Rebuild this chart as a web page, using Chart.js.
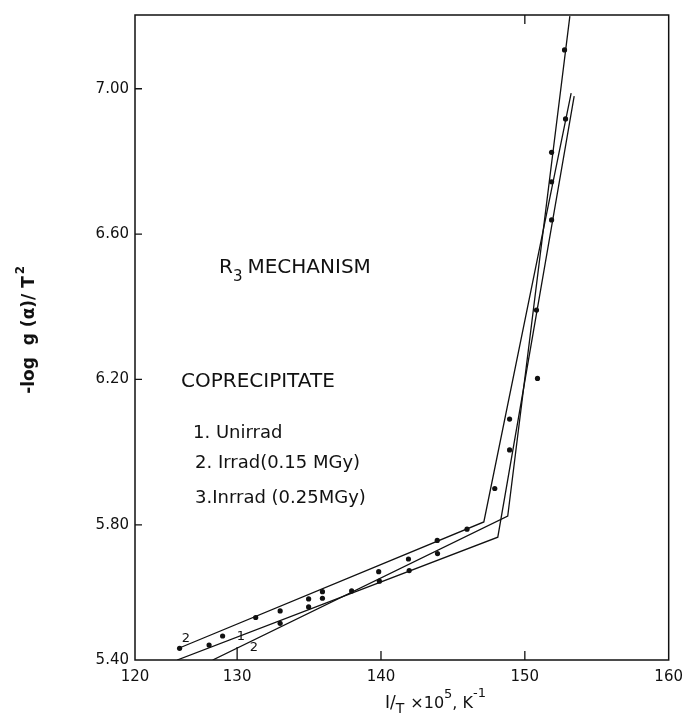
<!DOCTYPE html>
<html>
<head>
<meta charset="utf-8">
<script src="https://cdn.jsdelivr.net/npm/chart.js@4.4.0/dist/chart.umd.min.js"></script>
<style>
  html, body { margin: 0; padding: 0; background: #fff; }
</style>
</head>
<body>
<canvas id="chart" width="691" height="717"></canvas>
<script>
// axis ticks (the corner of the frame is labelled 120 / 5.40)
const xTickValues = [122.9, 130, 140, 150, 160];
const xTickLabels = ['120', '130', '140', '150', '160'];
const yTickValues = [5.428, 5.80, 6.20, 6.60, 7.00];
const yTickLabels = ['5.40', '5.80', '6.20', '6.60', '7.00'];

// measured points: 1/T x 10^5 and -log g(a)/T^2
const ptsX = [126.00, 128.05, 128.99, 131.29, 132.99, 132.99, 134.97, 134.97, 135.93, 135.93,
              137.96, 139.84, 139.89, 141.91, 141.96, 143.91, 143.93, 145.98,
              147.91, 148.94, 148.94, 150.81, 150.88, 151.86, 151.86, 151.86, 152.76, 152.83];
const ptsY = [5.460, 5.469, 5.494, 5.545, 5.563, 5.529, 5.596, 5.574, 5.616, 5.598,
              5.618, 5.671, 5.645, 5.706, 5.674, 5.757, 5.721, 5.788,
              5.900, 6.091, 6.006, 6.391, 6.203, 6.825, 6.744, 6.639, 7.107, 6.917];

// fitted lines (two segments each)
const fitUpperX = [125.98, 147.15, 153.22];
const fitUpperY = [5.461, 5.808, 6.988];
const fitMidX = [125.83, 148.12, 153.43];
const fitMidY = [5.428, 5.766, 6.980];
const fitLowX = [128.30, 148.81, 153.13];
const fitLowY = [5.428, 5.824, 7.20];

function toXY(xs, ys) {
  return xs.map((v, i) => ({ x: v, y: ys[i] }));
}

const ink = '#111';
const fontFam = '"DejaVu Sans", sans-serif';

function lineSet(xs, ys) {
  return {
    data: toXY(xs, ys),
    showLine: true,
    borderColor: ink,
    borderWidth: 1.3,
    pointRadius: 0,
    fill: false,
    tension: 0
  };
}

// draw a run of text pieces one after another
function drawRun(ctx, parts, x, y) {
  let cx = x;
  parts.forEach(p => {
    ctx.font = p.font;
    ctx.fillText(p.t, cx, y + (p.dy || 0));
    cx += ctx.measureText(p.t).width + (p.gap || 0);
  });
}

const overlay = {
  id: 'overlay',
  afterDraw(chart) {
    const { ctx, chartArea: a, scales: { x, y } } = chart;
    ctx.save();
    ctx.strokeStyle = ink;
    ctx.lineWidth = 1.5;
    ctx.strokeRect(a.left, a.top, a.right - a.left, a.bottom - a.top);

    // ticks point inwards
    ctx.lineWidth = 1.3;
    ctx.beginPath();
    [130, 140, 150].forEach(v => {
      const px = x.getPixelForValue(v);
      ctx.moveTo(px, a.bottom);
      ctx.lineTo(px, a.bottom - (v === 130 ? 13 : 9));
    });
    const tx = x.getPixelForValue(150);
    ctx.moveTo(tx, a.top);
    ctx.lineTo(tx, a.top + 9);
    [5.80, 6.20, 6.60, 7.00].forEach(v => {
      const py = y.getPixelForValue(v);
      ctx.moveTo(a.left, py);
      ctx.lineTo(a.left + 7, py);
    });
    ctx.stroke();

    ctx.fillStyle = ink;
    ctx.textBaseline = 'middle';
    ctx.textAlign = 'left';

    // annotations
    drawRun(ctx, [
      { t: 'R', font: '20px ' + fontFam, gap: 0 },
      { t: '3', font: '15px ' + fontFam, dy: 9, gap: 5 },
      { t: 'MECHANISM', font: '20px ' + fontFam }
    ], 219, 268);
    ctx.font = '20px ' + fontFam;
    ctx.fillText('COPRECIPITATE', 181, 382);
    ctx.font = '18px ' + fontFam;
    ctx.fillText('1. Unirrad', 193, 433);
    ctx.fillText('2. Irrad(0.15 MGy)', 195, 463);
    ctx.fillText('3.Inrrad (0.25MGy)', 195, 498);

    // line labels
    ctx.font = '13px ' + fontFam;
    ctx.textAlign = 'center';
    ctx.fillText('2', 186, 639);
    ctx.fillText('1', 241, 637);
    ctx.fillText('2', 254, 648);

    // x axis title
    ctx.textAlign = 'left';
    drawRun(ctx, [
      { t: 'I/', font: '17px ' + fontFam },
      { t: 'T', font: '14px ' + fontFam, dy: 5, gap: 6 },
      { t: '\u00d710', font: '16px ' + fontFam },
      { t: '5', font: '13px ' + fontFam, dy: -9 },
      { t: ', K', font: '16px ' + fontFam },
      { t: '-1', font: '13px ' + fontFam, dy: -10 }
    ], 385, 704);

    // y axis title
    ctx.translate(30, 330);
    ctx.rotate(-Math.PI / 2);
    ctx.font = 'bold 17px ' + fontFam;
    const main = '-log  g (\u03b1)/ T';
    const w = ctx.measureText(main).width + 10;
    drawRun(ctx, [
      { t: main, font: 'bold 17px ' + fontFam, gap: 2 },
      { t: '2', font: 'bold 12px ' + fontFam, dy: -9 }
    ], -w / 2, 0);
    ctx.restore();
  }
};

new Chart(document.getElementById('chart'), {
  type: 'scatter',
  data: {
    datasets: [
      {
        data: toXY(ptsX, ptsY),
        pointRadius: 2.6,
        pointBackgroundColor: ink,
        pointBorderWidth: 0,
        showLine: false
      },
      lineSet(fitUpperX, fitUpperY),
      lineSet(fitMidX, fitMidY),
      lineSet(fitLowX, fitLowY)
    ]
  },
  options: {
    responsive: false,
    animation: false,
    devicePixelRatio: 1,
    layout: { padding: { top: 15, right: 19, left: 0, bottom: 0 } },
    plugins: { legend: { display: false }, tooltip: { enabled: false } },
    scales: {
      x: {
        type: 'linear',
        min: 122.9,
        max: 160,
        afterBuildTicks: s => { s.ticks = xTickValues.map(v => ({ value: v })); },
        afterFit: s => { s.height = 57; },
        grid: { display: false, drawTicks: false },
        border: { display: false },
        ticks: {
          autoSkip: false,
          maxRotation: 0,
          padding: 8,
          color: ink,
          font: { family: fontFam, size: 15 },
          callback: (v, i) => xTickLabels[i]
        }
      },
      y: {
        type: 'linear',
        min: 5.428,
        max: 7.203,
        afterBuildTicks: s => { s.ticks = yTickValues.map(v => ({ value: v })); },
        afterFit: s => { s.width = 135; },
        grid: { display: false, drawTicks: false },
        border: { display: false },
        ticks: {
          autoSkip: false,
          padding: 6,
          color: ink,
          font: { family: fontFam, size: 15 },
          callback: (v, i) => yTickLabels[i]
        }
      }
    }
  },
  plugins: [overlay]
});
</script>
</body>
</html>
